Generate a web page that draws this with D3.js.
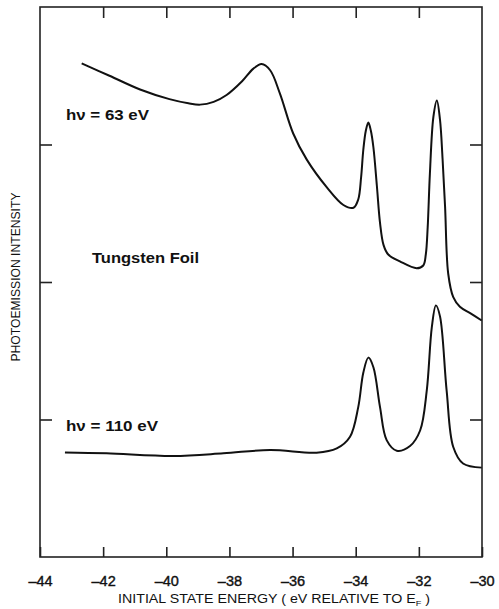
<!DOCTYPE html>
<html>
<head>
<meta charset="utf-8">
<script src="https://cdn.jsdelivr.net/npm/d3@7"></script>
<style>
body { margin:0; background:#fff; }
text { font-family:"Liberation Sans", Arial, sans-serif; fill:#111; }
</style>
</head>
<body>
<svg id="chart"></svg>
<script>
// tick values on the energy axis
var xTicks = [-44,-42,-40,-38,-36,-34,-32,-30]
var yTicks = [1,2,3]

// h nu = 63 eV spectrum (energy, intensity in tick units)
var e63 = [-42.68,-41.8,-40.83,-39.9,-39.3,-38.93,-38.5,-38.09,-37.6,-37.25,-36.98,-36.71,-36.4,-35.98,-35.55,-34.92,-34.39,-34.07,-33.92,-33.83,-33.76,-33.68,-33.6,-33.52,-33.44,-33.33,-33.23,-33.12,-32.97,-32.6,-32.07,-31.86,-31.78,-31.72,-31.65,-31.54,-31.43,-31.33,-31.25,-31.17,-31.07,-30.91,-30.7,-30.35,-30.01]
var i63 = [3.59,3.50,3.40,3.33,3.30,3.29,3.31,3.36,3.46,3.55,3.585,3.54,3.37,3.08,2.89,2.69,2.56,2.54,2.60,2.76,2.96,3.10,3.16,3.10,2.98,2.70,2.43,2.27,2.20,2.15,2.10,2.12,2.20,2.40,2.79,3.20,3.32,3.18,2.90,2.55,2.06,1.89,1.82,1.77,1.72]

// h nu = 110 eV spectrum
var e110 = [-43.21,-41.89,-39.78,-38.19,-36.71,-35.24,-34.6,-34.18,-33.92,-33.76,-33.6,-33.44,-33.23,-33.02,-32.7,-32.28,-31.96,-31.75,-31.59,-31.46,-31.33,-31.12,-30.91,-30.6,-30.01]
var i110 = [0.76,0.754,0.735,0.754,0.778,0.759,0.79,0.875,1.09,1.34,1.45,1.38,1.09,0.85,0.773,0.807,0.92,1.21,1.67,1.83,1.75,1.21,0.80,0.68,0.65]

var initGraph = function(target)
{
    var screen = {width:499, height:609};
    var margins = {top:7,bottom:52,left:40,right:17};
    var graph =
    {
        width:screen.width-margins.left-margins.right,
        height:screen.height-margins.top-margins.bottom
    }

    var svg = d3.select(target)
        .attr("width",screen.width)
        .attr("height",screen.height)

    var xScale = d3.scaleLinear()
        .domain([-44,-30])
        .range([0,graph.width])

    var yScale = d3.scaleLinear()
        .domain([0,4])
        .range([graph.height,0])

    var g = svg.append("g")
        .attr("transform","translate("+margins.left+","+margins.top+")")

    //frame
    g.append("rect")
        .attr("width",graph.width)
        .attr("height",graph.height)
        .attr("fill","none")
        .attr("stroke","#222")
        .attr("stroke-width",1.6)

    //bottom axis, ticks pointing in
    var xAxis = d3.axisBottom(xScale)
        .tickValues(xTicks)
        .tickSizeInner(-10)
        .tickSizeOuter(0)
        .tickPadding(19)
        .tickFormat(function(d){ return String(d).replace("-","\u2013"); })
    var xa = g.append("g")
        .attr("transform","translate(0,"+graph.height+")")
        .call(xAxis)
    xa.select(".domain").remove()
    xa.selectAll("line").attr("stroke","#222").attr("stroke-width",1.6)
    xa.selectAll("text")
        .style("font-size","14.5px")
        .style("font-family","'Liberation Sans', Arial, sans-serif")
        .attr("fill","#111")
        .attr("stroke","#111")
        .attr("stroke-width",0.4)

    //top ticks
    var xt = g.append("g").call(d3.axisTop(xScale).tickValues(xTicks.slice(1,-1))
        .tickSizeInner(-11).tickSizeOuter(0).tickFormat(""))
    xt.select(".domain").remove()
    xt.selectAll("line").attr("stroke","#222").attr("stroke-width",1.6)

    //left and right ticks
    var yl = g.append("g").call(d3.axisLeft(yScale).tickValues(yTicks)
        .tickSizeInner(-12).tickSizeOuter(0).tickFormat(""))
    yl.select(".domain").remove()
    yl.selectAll("line").attr("stroke","#222").attr("stroke-width",1.6)
    var yr = g.append("g")
        .attr("transform","translate("+graph.width+",0)")
        .call(d3.axisRight(yScale).tickValues(yTicks)
        .tickSizeInner(-12).tickSizeOuter(0).tickFormat(""))
    yr.select(".domain").remove()
    yr.selectAll("line").attr("stroke","#222").attr("stroke-width",1.6)

    //curves
    var line = d3.line()
        .x(function(d){ return xScale(d[0]); })
        .y(function(d){ return yScale(d[1]); })
        .curve(d3.curveCatmullRom.alpha(0.5))

    var spectra = [d3.zip(e63,i63), d3.zip(e110,i110)]
    g.selectAll(".spec")
        .data(spectra)
        .enter()
        .append("path")
        .classed("spec",true)
        .attr("d",line)
        .attr("fill","none")
        .attr("stroke","#111")
        .attr("stroke-width",2)
        .attr("stroke-linejoin","round")

    //annotations
    svg.append("text")
        .attr("x",66).attr("y",120)
        .style("font-size","14px").style("font-weight","bold")
        .attr("textLength",83).attr("lengthAdjust","spacingAndGlyphs")
        .text("h\u03bd = 63 eV")
    svg.append("text")
        .attr("x",92).attr("y",263)
        .style("font-size","14px").style("font-weight","bold")
        .attr("textLength",107).attr("lengthAdjust","spacingAndGlyphs")
        .text("Tungsten Foil")
    svg.append("text")
        .attr("x",66).attr("y",431)
        .style("font-size","14px").style("font-weight","bold")
        .attr("textLength",92).attr("lengthAdjust","spacingAndGlyphs")
        .text("h\u03bd = 110 eV")

    //axis titles
    var xt2 = svg.append("text")
        .attr("x",118).attr("y",603)
        .style("font-size","12.5px")
        .attr("textLength",312).attr("lengthAdjust","spacingAndGlyphs")
    xt2.append("tspan").text("INITIAL STATE ENERGY  ( eV  RELATIVE TO E")
    xt2.append("tspan").attr("dy",3).style("font-size","8px").text("F")
    xt2.append("tspan").attr("dy",-3).text(" )")

    svg.append("text")
        .attr("transform","translate(20,277) rotate(-90)")
        .attr("text-anchor","middle")
        .style("font-size","12px")
        .attr("textLength",169).attr("lengthAdjust","spacingAndGlyphs")
        .text("PHOTOEMISSION INTENSITY")
}

initGraph("#chart");
</script>
</body>
</html>
